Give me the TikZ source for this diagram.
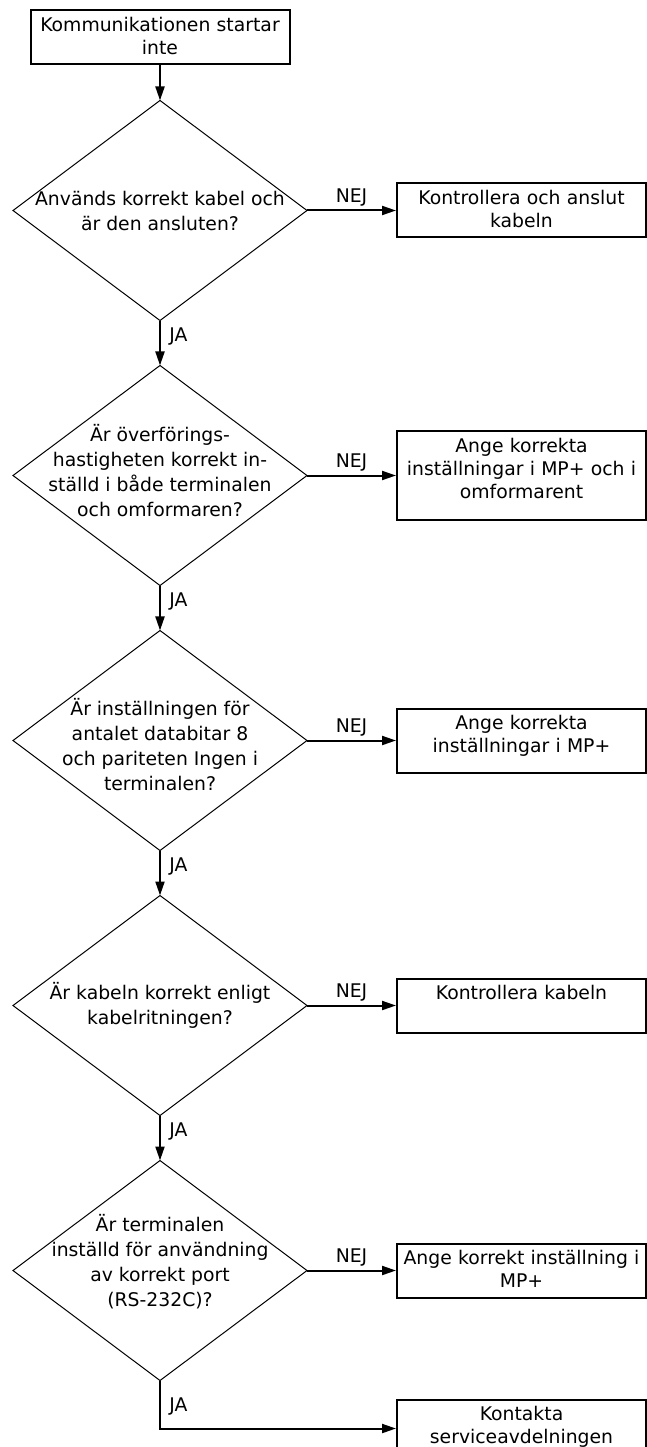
\documentclass[tikz,border=0pt]{standalone}
\usepackage{fontspec}
\setmainfont{DejaVu Sans}
\usetikzlibrary{positioning, shapes.geometric, arrows.meta}

\newcommand{\flowfont}{\fontsize{18.8pt}{23pt}\selectfont}
\newcommand{\askfont}{\fontsize{18.8pt}{25pt}\selectfont}

\tikzset{
  action/.style={draw, line width=2pt, text width=237pt, align=center,
    inner xsep=6pt, inner ysep=0pt, text height=21pt, text depth=#1, font=\flowfont},
  action/.default=33pt,
  decision/.style={draw, diamond, line width=1pt, minimum width=294pt,
    minimum height=220pt, inner sep=0pt, outer sep=0pt},
  asktext/.style={align=center, font=\askfont, inner sep=0pt},
  flow/.style={line width=2pt, -{Triangle[length=14pt,width=9pt]}},
  nej/.style={above, font=\flowfont},
  ja/.style={right, xshift=5pt, font=\flowfont}
}

\begin{document}
\begin{tikzpicture}[x=1pt, y=1pt, node distance=45pt]
  \useasboundingbox (0,0) rectangle (647,-1447);

  \node[action, text width=247pt] (start) at (160,-37.5) {Kommunikationen startar\\inte};

  \node[decision, below=35pt of start,
    label={[asktext, name=q1t]center:{Används korrekt kabel och\\är den ansluten?}}] (q1) {};
  \node[decision, below=of q1,
    label={[asktext, name=q2t, yshift=5pt]center:{Är överförings-\\hastigheten korrekt in-\\ställd i både terminalen\\och omformaren?}}] (q2) {};
  \node[decision, below=of q2,
    label={[asktext, name=q3t, yshift=-4pt]center:{Är inställningen för\\antalet databitar 8\\och pariteten Ingen i\\terminalen?}}] (q3) {};
  \node[decision, below=of q3,
    label={[asktext, name=q4t]center:{Är kabeln korrekt enligt\\kabelritningen?}}] (q4) {};
  \node[decision, below=of q4,
    label={[asktext, name=q5t, yshift=9pt]center:{Är terminalen\\inställd för användning\\av korrekt port\\(RS-232C)?}}] (q5) {};

  \node[action, right=89pt of q1] (r1) {Kontrollera och anslut\\kabeln};
  \node[action=68pt, right=89pt of q2] (r2) {Ange korrekta\\inställningar i MP+ och i\\omformarent};
  \node[action=43pt, right=89pt of q3] (r3) {Ange korrekta\\inställningar i MP+};
  \node[action, right=89pt of q4] (r4) {Kontrollera kabeln};
  \node[action, right=89pt of q5] (r5) {\mbox{Ange korrekt inställning i}\\MP+};
  \node[action=37pt, below=100pt of r5] (r6) {Kontakta\\serviceavdelningen};

  % main line
  \draw[flow] (start) -- (q1);
  \draw[flow] (q1) -- node[ja, pos=0.35] (j1) {JA} (q2);
  \draw[flow] (q2) -- node[ja, pos=0.35] (j2) {JA} (q3);
  \draw[flow] (q3) -- node[ja, pos=0.35] (j3) {JA} (q4);
  \draw[flow] (q4) -- node[ja, pos=0.35] (j4) {JA} (q5);
  \draw[flow] (q5.south) |- node[ja, pos=0.27] (j5) {JA} (r6.west);

  % no branches
  \draw[flow] (q1) -- node[nej] (n1) {NEJ} (r1);
  \draw[flow] (q2) -- node[nej] (n2) {NEJ} (r2);
  \draw[flow] (q3) -- node[nej] (n3) {NEJ} (r3);
  \draw[flow] (q4) -- node[nej] (n4) {NEJ} (r4);
  \draw[flow] (q5) -- node[nej] (n5) {NEJ} (r5);
\end{tikzpicture}
\end{document}
